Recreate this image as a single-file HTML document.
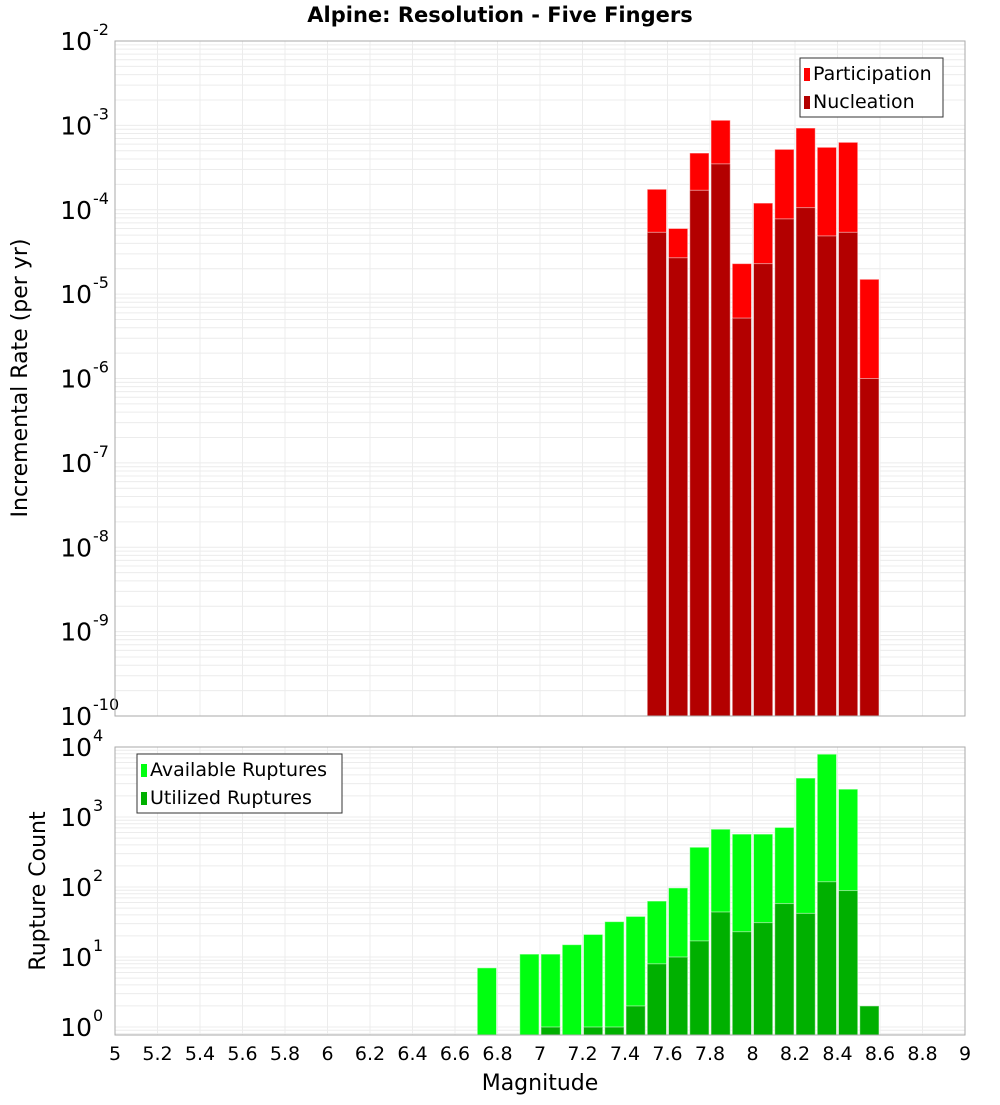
<!DOCTYPE html>
<html><head><meta charset="utf-8"><style>
body{margin:0;background:#fff;font-family:"Liberation Sans","DejaVu Sans",sans-serif}
svg text{font-family:"DejaVu Sans","Liberation Sans",sans-serif}
</style></head><body>
<svg id="c" width="1000" height="1100" viewBox="0 0 1000 1100">
<text x="500" y="22" text-anchor="middle" font-size="21" font-weight="bold">Alpine: Resolution - Five Fingers</text>
<g id="top"></g>
<g id="bot"></g>
<text x="540" y="1090" text-anchor="middle" font-size="22">Magnitude</text>
<text transform="translate(27,378) rotate(-90)" text-anchor="middle" font-size="22">Incremental Rate (per yr)</text>
<text transform="translate(45,891) rotate(-90)" text-anchor="middle" font-size="22">Rupture Count</text>
</svg>
<script>
const xTicks=["5","5.2","5.4","5.6","5.8","6","6.2","6.4","6.6","6.8","7","7.2","7.4","7.6","7.8","8","8.2","8.4","8.6","8.8","9"];
const rateMags=[7.55,7.65,7.75,7.85,7.95,8.05,8.15,8.25,8.35,8.45,8.55];
const participation=[1.75e-4,6.0e-5,4.7e-4,1.15e-3,2.3e-5,1.2e-4,5.2e-4,9.3e-4,5.5e-4,6.3e-4,1.5e-5];
const nucleation=[5.4e-5,2.7e-5,1.7e-4,3.5e-4,5.2e-6,2.3e-5,7.8e-5,1.06e-4,4.9e-5,5.4e-5,1.0e-6];
const countMags=[6.75,6.95,7.05,7.15,7.25,7.35,7.45,7.55,7.65,7.75,7.85,7.95,8.05,8.15,8.25,8.35,8.45,8.55];
const available=[7,11,11,15,21,32,38,63,97,370,670,570,570,710,3600,7900,2500,0];
const utilized=[0,0,1,0,1,1,2,8,10,17,44,23,31,58,42,119,89,2];
const NS="http://www.w3.org/2000/svg";
const X0=115,X1=965,xmin=5,xmax=9;
const xs=v=>X0+(v-xmin)/(xmax-xmin)*(X1-X0);
function el(p,t,a){const e=document.createElementNS(NS,t);for(const k in a)e.setAttribute(k,a[k]);p.appendChild(e);return e;}
function panel(g,top,bot,lmin,lmax,ppd,name){
  const ys=v=>top+(lmax-Math.log10(v))*ppd;
  for(let d=Math.floor(lmin);d<lmax;d++)for(let m=1;m<10;m++){const y=ys(m*Math.pow(10,d));if(y<top||y>bot)continue;
    const l=el(g,'line',{x1:X0,x2:X1,y1:y,y2:y,stroke:'#ececec','stroke-width':1});
    }
  xTicks.forEach(t=>{const x=xs(+t);const l=el(g,'line',{x1:x,x2:x,y1:top,y2:bot,stroke:'#ececec'});
    });
  for(let d=Math.ceil(lmin-0.01);d<=lmax;d++){const y=ys(Math.pow(10,d));
    const t=el(g,'text',{x:92,y:y+9,'text-anchor':'end','font-size':25});t.textContent='10';
    
    const s=el(g,'text',{x:93,y:y-6,'font-size':16});s.textContent=String(d);
    }
  return ys;
}
function bars(g,mags,vals,color,ys,bot,name){
  mags.forEach((m,i)=>{if(!(vals[i]>0))return;const x=xs(m-0.05)+1,w=xs(m+0.05)-xs(m-0.05)-2;const y=ys(vals[i]);
    const r=el(g,'rect',{x:x,y:y,width:w,height:bot-y,fill:color,stroke:'rgba(255,255,255,0.5)','stroke-width':1});
    });
}
function legend(g,x,y,w,items,name){
  const b=el(g,'rect',{x:x,y:y,width:w,height:59,fill:'#fff',stroke:'#333','stroke-width':1});
  
  items.forEach((it,i)=>{const r=el(g,'rect',{x:x+4,y:y+10+i*28,width:6,height:13,fill:it[1]});
    
    const t=el(g,'text',{x:x+13,y:y+22+i*28,'font-size':19});t.textContent=it[0];
    });
}
const T=document.getElementById('top'),B=document.getElementById('bot');
const ysT=panel(T,41,716,-10,-2,84.375,'top');
bars(T,rateMags,participation,'#ff0000',ysT,716,'participation');
bars(T,rateMags,nucleation,'#b30000',ysT,716,'nucleation');
const bt=el(T,'rect',{x:X0,y:41,width:X1-X0,height:675,fill:'none',stroke:'#aaa'});

legend(T,800,58,143,[['Participation','#ff0000'],['Nucleation','#b30000']],'top-legend');
const ysB=panel(B,747,1035,-0.1,4,70,'bottom');
bars(B,countMags,available,'#00ff10',ysB,1035,'available');
bars(B,countMags,utilized,'#00b000',ysB,1035,'utilized');
const bb=el(B,'rect',{x:X0,y:747,width:X1-X0,height:288,fill:'none',stroke:'#aaa'});

legend(B,137,754,205,[['Available Ruptures','#00ff10'],['Utilized Ruptures','#00b000']],'bottom-legend');
xTicks.forEach(t=>{const e=el(B,'text',{x:xs(+t),y:1060,'text-anchor':'middle','font-size':19});e.textContent=t;
  });
</script>
</body></html>
